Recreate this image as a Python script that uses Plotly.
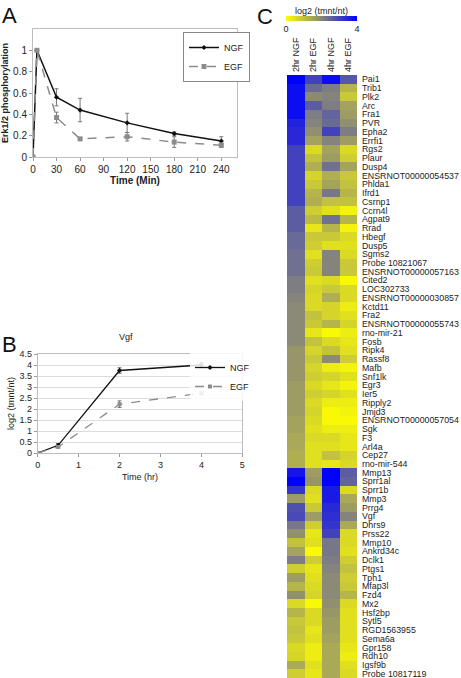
import plotly.graph_objects as go

W, H = 461, 678

# ---------- Panel A data ----------
a_time = [0, 5, 30, 60, 120, 180, 240]
a_ngf = [0, 1.0, 0.56, 0.44, 0.32, 0.22, 0.15]
a_ngf_err = [0, 0, 0.08, 0.11, 0.09, 0.015, 0.04]
a_egf = [0, 1.0, 0.37, 0.17, 0.19, 0.14, 0.11]
a_egf_err = [0, 0, 0.05, 0.01, 0.04, 0.05, 0.02]

# ---------- Panel B data ----------
b_time = [0, 0.5, 2, 4]
b_ngf = [0, 0.35, 3.75, 4.0]
b_ngf_err = [0, 0.08, 0.12, 0.12]
b_egf = [0, 0.27, 2.22, 2.72]
b_egf_err = [0, 0.03, 0.15, 0.05]

# ---------- Panel C data ----------
conditions = ["2hr NGF", "2hr EGF", "4hr NGF", "4hr EGF"]
genes = ["Pai1", "Trib1", "Plk2", "Arc", "Fra1", "PVR", "Epha2", "Errfi1", "Rgs2", "Plaur",
         "Dusp4", "ENSRNOT00000054537", "Phlda1", "Ifrd1", "Csrnp1", "Ccrn4l", "Agpat9", "Rrad",
         "Hbegf", "Dusp5", "Sgms2", "Probe 10821067", "ENSRNOT00000057163", "Cited2", "LOC302733",
         "ENSRNOT00000030857", "Kctd11", "Fra2", "ENSRNOT00000055743", "rno-mir-21", "Fosb",
         "Ripk4", "Rassf8", "Mafb", "Snf1lk", "Egr3", "Ier5", "Ripply2", "Jmjd3",
         "ENSRNOT00000057054", "Sgk", "F3", "Arl4a", "Cep27", "rno-mir-544", "Mmp13", "Sprr1al",
         "Sprr1b", "Mmp3", "Prrg4", "Vgf", "Dhrs9", "Prss22", "Mmp10", "Ankrd34c", "Dclk1",
         "Ptgs1", "Tph1", "Mfap3l", "Fzd4", "Mx2", "Hsf2bp", "Sytl5", "RGD1563955", "Sema6a",
         "Gpr158", "Rdh10", "Igsf9b", "Probe 10817119"]
ngf_2hr = [4.0, 3.8, 3.8, 3.8, 3.8, 3.5, 3.4, 3.4, 3.0, 3.0,
           3.0, 3.0, 3.0, 3.0, 3.0, 2.6, 2.6, 2.6,
           2.4, 2.4, 2.3, 2.3, 2.3, 2.1, 2.1,
           2.0, 1.9, 1.9, 1.9, 1.9, 1.9,
           1.7, 1.7, 1.7, 1.7, 1.6, 1.6, 1.6, 1.6,
           1.5, 1.5, 1.4, 1.4, 1.3, 1.3, 3.7, 4.0,
           3.2, 1.6, 2.8, 2.9, 2.2, 1.8, 1.0, 1.5, 2.1,
           0.8, 1.6, 1.2, 1.8, 0.6, 1.2, 0.9, 1.0, 0.9,
           0.6, 0.7, 1.4, 0.8]
egf_2hr = [3.0, 2.4, 1.9, 2.6, 2.1, 2.0, 1.8, 1.5, 0.6, 1.0,
           1.3, 0.7, 0.9, 1.2, 1.3, 0.8, 1.1, 0.4,
           0.9, 0.8, 0.5, 0.8, 0.9, 0.5, 0.7,
           0.6, 0.6, 1.0, 0.9, 0.4, 1.0,
           0.7, 0.9, 0.7, 0.8, 0.6, 0.8, 0.6, 0.7,
           0.6, 0.5, 0.6, 0.5, 0.5, 0.5, 1.6, 1.7,
           0.6, 0.5, 0.9, 1.6, 0.8, 0.4, 0.5, 0.1, 0.8,
           0.4, 0.5, 0.6, 0.7, 0.1, 0.6, 0.6, 0.4, 0.5,
           0.3, 0.3, 0.5, 0.4]
ngf_4hr = [3.8, 2.1, 2.0, 2.1, 2.5, 2.4, 3.0, 2.0, 1.5, 1.6,
           2.3, 1.3, 1.5, 2.2, 1.0, 0.5, 2.3, 1.2,
           0.9, 0.5, 2.0, 2.0, 2.0, 0.6, 0.9,
           1.3, 0.7, 0.7, 1.2, 0.1, 0.6,
           1.0, 1.9, 0.3, 0.7, 0.4, 0.7, 0.3, 0.1,
           0.1, 0.3, 0.6, 0.5, 1.0, 0.4, 4.0, 4.0,
           3.6, 3.6, 3.4, 3.3, 3.2, 3.0, 2.2, 2.2, 2.1,
           2.0, 1.9, 1.9, 1.9, 1.8, 1.7, 1.6, 1.6, 1.5,
           1.4, 1.4, 1.4, 1.4]
egf_4hr = [2.7, 1.2, 0.9, 1.5, 1.6, 1.8, 2.1, 1.6, 0.6, 0.8,
           1.5, 0.9, 1.0, 1.2, 1.0, 0.2, 1.2, 0.2,
           0.6, 0.5, 0.6, 0.9, 0.9, 0.1, 0.6,
           0.6, 0.3, 0.5, 0.7, 0.3, 0.4,
           0.5, 0.8, 0.2, 0.5, 0.2, 0.5, 0.3, 0.2,
           0.1, 0.3, 0.4, 0.4, 0.7, 0.6, 2.6, 2.5,
           0.6, 1.4, 1.6, 2.0, 1.4, 0.6, 0.6, 0.5, 0.8,
           1.0, 0.8, 0.9, 1.2, 0.6, 0.5, 0.5, 0.5, 0.5,
           0.4, 0.3, 0.5, 0.6]

z = [[ngf_2hr[i], egf_2hr[i], ngf_4hr[i], egf_4hr[i]] for i in range(len(genes))]

FONT = "Liberation Sans, Arial, sans-serif"
NGF_C = "#111111"
EGF_C = "#8c8c8c"

fig = go.Figure()

# Panel A
fig.add_trace(go.Scatter(x=a_time, y=a_ngf, name="NGF", mode="lines+markers",
                         line=dict(color=NGF_C, width=1.5),
                         marker=dict(symbol="diamond", size=4, color=NGF_C),
                         error_y=dict(type="data", array=a_ngf_err, color="#777", thickness=1, width=2),
                         xaxis="x", yaxis="y", legend="legend"))
fig.add_trace(go.Scatter(x=a_time, y=a_egf, name="EGF", mode="lines+markers",
                         line=dict(color=EGF_C, width=1.5, dash="dash"),
                         marker=dict(symbol="square", size=5, color=EGF_C),
                         error_y=dict(type="data", array=a_egf_err, color="#777", thickness=1, width=2),
                         xaxis="x", yaxis="y", legend="legend"))

# Panel B
fig.add_trace(go.Scatter(x=b_time, y=b_ngf, name="NGF", mode="lines+markers",
                         line=dict(color=NGF_C, width=1.3),
                         marker=dict(symbol="diamond", size=4, color=NGF_C),
                         error_y=dict(type="data", array=b_ngf_err, color="#555", thickness=1, width=2),
                         xaxis="x2", yaxis="y2", legend="legend2"))
fig.add_trace(go.Scatter(x=b_time, y=b_egf, name="EGF", mode="lines+markers",
                         line=dict(color=EGF_C, width=1.3, dash="dash"),
                         marker=dict(symbol="square", size=4, color=EGF_C),
                         error_y=dict(type="data", array=b_egf_err, color="#777", thickness=1, width=2),
                         xaxis="x2", yaxis="y2", legend="legend2"))

# Panel C heatmap
fig.add_trace(go.Heatmap(z=z, x=conditions, y=genes, zmin=0, zmax=4,
                         colorscale=[[0, "#ffff00"], [0.5, "#84847c"], [1, "#0000ff"]],
                         xaxis="x3", yaxis="y3", xgap=0, ygap=0,
                         colorbar=dict(orientation="h", x=286 / W, xanchor="left",
                                       y=1 - 6 / H, yanchor="top",
                                       len=71, lenmode="pixels", thickness=5,
                                       thicknessmode="pixels", outlinewidth=0,
                                       xpad=0, ypad=0, tickvals=[0, 4], ticks="",
                                       tickfont=dict(size=9, color="#222", family=FONT),
                                       title=dict(text="log2 (tmnt/nt)", side="top",
                                                  font=dict(size=9, color="#222", family=FONT)))))

def py(top, bottom):
    return [1 - bottom / H, 1 - top / H]

fig.update_layout(
    width=W, height=H, margin=dict(l=0, r=0, t=0, b=0, autoexpand=False),
    paper_bgcolor="white", plot_bgcolor="white",
    font=dict(family=FONT, color="#222", size=10),
    showlegend=True,
    xaxis=dict(domain=[33 / W, 237 / W], range=[0, 260], tickvals=list(range(0, 241, 30)),
               showgrid=False, zeroline=False, showline=True, mirror=True, linecolor="#bdbdbd",
               ticks="outside", ticklen=3, tickcolor="#999", tickfont=dict(size=10),
               title=dict(text="<b>Time (Min)</b>", font=dict(size=10), standoff=2), anchor="y",
               automargin=False),
    yaxis=dict(domain=py(29, 157), range=[0, 1.2], tickvals=[0, 0.2, 0.4, 0.6, 0.8, 1],
               ticktext=["0", "0.2", "0.4", "0.6", "0.8", "1"],
               showgrid=False, zeroline=False, showline=True, mirror=True, linecolor="#bdbdbd",
               ticks="outside", ticklen=3, tickcolor="#999", tickfont=dict(size=10),
               title=dict(text="<b>Erk1/2 phosphorylation</b>", font=dict(size=9), standoff=4),
               anchor="x", automargin=False),
    xaxis2=dict(domain=[37.7 / W, 242.3 / W], range=[0, 5], dtick=1,
                showgrid=False, zeroline=False, showline=True, mirror=True, linecolor="#bdbdbd",
                ticks="outside", ticklen=3, tickcolor="#999", tickfont=dict(size=9),
                title=dict(text="Time (hr)", font=dict(size=9), standoff=4), anchor="y2",
                automargin=False),
    yaxis2=dict(domain=py(354, 453), range=[0, 4.5], dtick=0.5,
                showgrid=True, gridcolor="#dcdcdc", zeroline=False, showline=True, mirror=True,
                linecolor="#bdbdbd", ticks="outside", ticklen=3, tickcolor="#999",
                tickfont=dict(size=9),
                title=dict(text="log2 (tmnt/nt)", font=dict(size=9), standoff=3), anchor="x2",
                automargin=False),
    xaxis3=dict(domain=[287 / W, 357 / W], side="top", tickangle=-90, ticks="",
                tickfont=dict(size=9), showgrid=False, zeroline=False, anchor="y3",
                ticklabelstandoff=2, automargin=False),
    yaxis3=dict(domain=[0, 1 - 75 / H], side="right", autorange="reversed", ticks="",
                tickfont=dict(size=8.8), showgrid=False, zeroline=False, anchor="x3",
                ticklabelstandoff=4, dtick=1, automargin=False),
    legend=dict(x=183 / W, y=1 - 32 / H, xanchor="left", yanchor="top",
                bordercolor="#888", borderwidth=1, bgcolor="white",
                font=dict(size=9), itemwidth=30, tracegroupgap=0),
    legend2=dict(x=190 / W, y=1 - 353 / H, xanchor="left", yanchor="top",
                 bordercolor="rgba(0,0,0,0)", borderwidth=0, bgcolor="rgba(255,255,255,0.85)",
                 font=dict(size=9), itemwidth=30, tracegroupgap=0),
)

ann = [
    dict(text="A", x=0 / W, y=1 - 1 / H, font=dict(size=22)),
    dict(text="B", x=0 / W, y=1 - 330 / H, font=dict(size=22)),
    dict(text="C", x=255 / W, y=1 - 2 / H, font=dict(size=22)),
]
for a in ann:
    fig.add_annotation(xref="paper", yref="paper", xanchor="left", yanchor="top",
                       showarrow=False, text=a["text"], x=a["x"], y=a["y"],
                       font=dict(family=FONT, color="#111", size=a["font"]["size"]))
fig.add_annotation(xref="paper", yref="paper", xanchor="center", yanchor="middle",
                   showarrow=False, text="Vgf", x=126 / W, y=1 - 337 / H,
                   font=dict(family=FONT, color="#222", size=9))

fig.write_html("out.html", config={"displayModeBar": False},
               post_script="document.body.style.margin='0px';document.body.style.overflow='hidden';")
